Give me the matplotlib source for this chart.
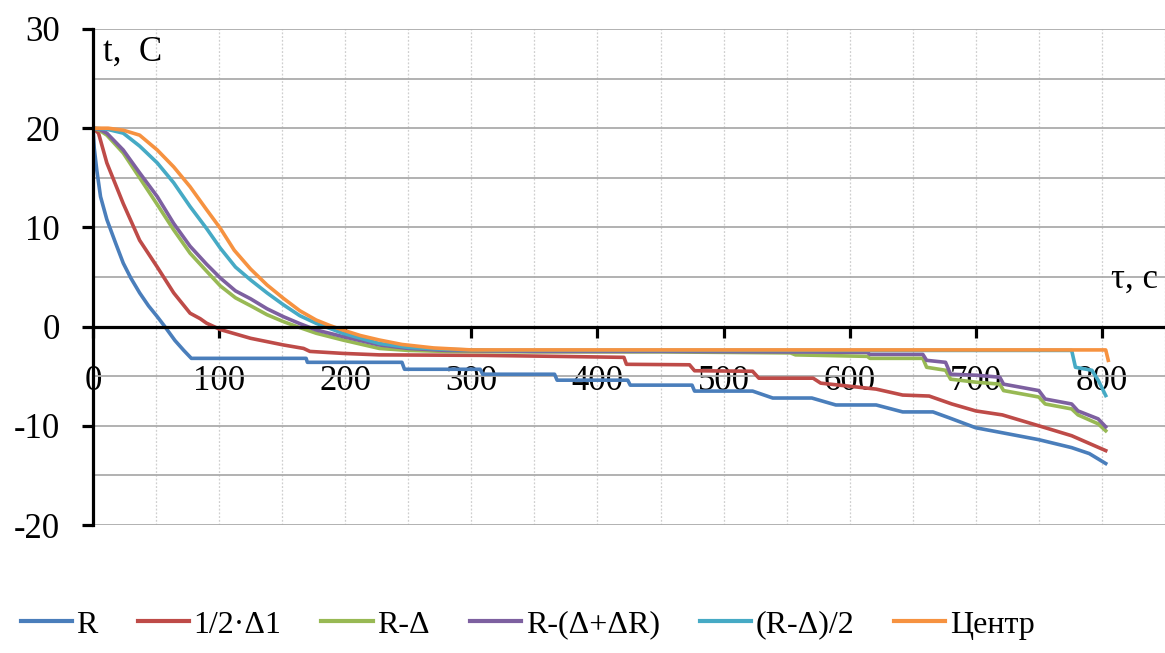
import matplotlib
matplotlib.use("Agg")
import matplotlib.pyplot as plt
from matplotlib.ticker import MultipleLocator

plt.rcParams["font.family"] = ["Liberation Serif", "DejaVu Serif"]
plt.rcParams["axes.unicode_minus"] = False

# cooling curves, time in s, temperature in C
t_R = [0, 1, 3, 6, 11, 18, 24, 30, 37, 44, 51, 57, 65, 72, 78, 169, 170, 245, 247, 307, 309,
       366, 368, 424, 426, 475, 477, 523, 539, 570, 589, 621, 642, 666, 679, 700, 721, 750, 776, 790, 803]
T_R = [20, 18.0, 15.8, 13.1, 10.8, 8.4, 6.4, 4.9, 3.4, 2.1, 1.0, 0.0, -1.4, -2.4, -3.2, -3.2, -3.6,
       -3.6, -4.3, -4.3, -4.8, -4.8, -5.4, -5.4, -5.9, -5.9, -6.5, -6.5, -7.2, -7.2, -7.9, -7.9, -8.6,
       -8.6, -9.2, -10.2, -10.7, -11.4, -12.2, -12.8, -13.8]

t_half = [0, 4.4, 11, 24, 37, 51, 64, 77, 85, 90, 101, 125, 151, 167, 172, 198, 227, 309,
          367, 421, 423, 473, 477, 523, 528, 571, 577, 621, 642, 663, 681, 700, 721, 750, 776, 803]
T_half = [20, 19.5, 16.5, 12.4, 8.7, 6.0, 3.4, 1.35, 0.8, 0.35, -0.3, -1.18, -1.85, -2.2, -2.5, -2.7,
          -2.85, -2.9, -3.0, -3.1, -3.8, -3.85, -4.45, -4.5, -5.2, -5.2, -5.7, -6.3,
          -6.9, -7.0, -7.8, -8.5, -8.9, -10.0, -11.0, -12.5]

t_RD = [0, 5, 11, 24, 37, 51, 64, 77, 90, 101, 113, 125, 138, 151, 164, 177, 198, 227, 250, 280, 350,
        450, 553, 557, 614, 616, 658, 661, 676, 680, 700, 719, 722, 750, 755, 776, 781, 797, 803]
T_RD = [20, 19.8, 19.3, 17.5, 15.0, 12.3, 9.75, 7.4, 5.6, 4.1, 2.9, 2.1, 1.2, 0.5, -0.1, -0.67, -1.35,
        -2.2, -2.4, -2.5, -2.55, -2.55, -2.65, -2.85, -3.0, -3.2, -3.2, -4.1, -4.4, -5.3, -5.6, -5.8,
        -6.45, -7.1, -7.8, -8.3, -8.9, -9.8, -10.5]

t_RDR = [0, 5, 11, 24, 37, 51, 64, 77, 90, 101, 113, 125, 138, 151, 164, 177, 198, 227, 250, 280, 350,
         450, 553, 614, 616, 658, 661, 676, 680, 700, 719, 722, 750, 755, 776, 781, 797, 803]
T_RDR = [20, 19.9, 19.5, 17.8, 15.5, 13.1, 10.4, 8.1, 6.3, 4.9, 3.6, 2.8, 1.8, 1.0, 0.3, -0.34, -1.0,
         -1.85, -2.2, -2.4, -2.5, -2.5, -2.55, -2.6, -2.8, -2.8, -3.4, -3.6, -4.8, -4.9, -5.1, -5.8,
         -6.45, -7.3, -7.8, -8.5, -9.3, -10.1]

t_mid = [0, 11, 24, 37, 51, 64, 77, 90, 101, 113, 125, 138, 151, 164, 177, 198, 227, 250, 280, 320,
         776, 779, 792, 797, 803]
T_mid = [20, 19.9, 19.5, 18.2, 16.5, 14.5, 12.1, 9.9, 7.9, 6.0, 4.7, 3.4, 2.2, 1.1, 0.33, -0.67, -1.7,
         -2.1, -2.3, -2.4, -2.4, -4.1, -4.4, -5.4, -6.95]

t_c = [0, 12, 24, 37, 51, 64, 77, 90, 101, 112, 125, 138, 151, 164, 177, 188, 198, 212, 227, 245, 270,
       300, 803, 805]
T_c = [20, 20.0, 19.8, 19.3, 17.8, 16.1, 14.1, 11.8, 9.9, 7.7, 5.8, 4.2, 2.85, 1.6, 0.66, 0.1, -0.34,
       -0.9, -1.35, -1.8, -2.15, -2.35, -2.35, -3.4]

series = [("R", t_R, T_R, "#4A7EBB"),
          ("1/2·Δ1", t_half, T_half, "#BE4B48"),
          ("R-Δ", t_RD, T_RD, "#98B954"),
          ("R-(Δ+ΔR)", t_RDR, T_RDR, "#7D60A0"),
          ("(R-Δ)/2", t_mid, T_mid, "#46AAC5"),
          ("Центр", t_c, T_c, "#F69240")]

fig = plt.figure(figsize=(11.65, 6.53), dpi=100)
ax = fig.add_axes([0.0798, 0.196, 0.9202, 0.7596])

for name, t, T, c in series:
    ax.plot(t, T, color=c, lw=2.6, label=name, solid_joinstyle="round", zorder=3)

ax.set_xlim(0, 850)
ax.set_ylim(-20, 30)
ax.xaxis.set_major_locator(MultipleLocator(100))
ax.xaxis.set_minor_locator(MultipleLocator(50))
ax.yaxis.set_major_locator(MultipleLocator(10))
ax.yaxis.set_minor_locator(MultipleLocator(5))

ax.grid(True, axis="y", which="both", color="#ABABAB", lw=1.3)
ax.grid(True, axis="x", which="both", color="#CFCFCF", lw=0.9, ls=(0, (1.5, 1.5)))
ax.set_axisbelow(True)

for s in ("top", "right"):
    ax.spines[s].set_visible(False)
ax.spines["bottom"].set_position(("data", 0))
ax.spines["bottom"].set_linewidth(2.3)
ax.spines["left"].set_linewidth(2.3)
ax.spines["left"].set_zorder(4)
ax.spines["bottom"].set_zorder(4)

ax.tick_params(axis="y", which="major", direction="out", length=8, width=2.3, labelsize=25, pad=16)
ax.tick_params(axis="x", which="major", direction="out", length=8, width=2.3, labelsize=25, pad=20)
ax.tick_params(which="minor", length=0)

ax.text(8, 27.7, "t,  C", fontsize=25, va="center", ha="left")
ax.text(807, 4.8, "τ, c", fontsize=25, va="center", ha="left")

leg = fig.legend(loc="center", bbox_to_anchor=(0.453, 0.043), ncol=6, frameon=False, fontsize=23,
                 handlelength=1.6, handletextpad=0.15, columnspacing=1.25)
for h in leg.get_lines():
    h.set_linewidth(3.0)

fig.savefig("out.png", dpi=100)
